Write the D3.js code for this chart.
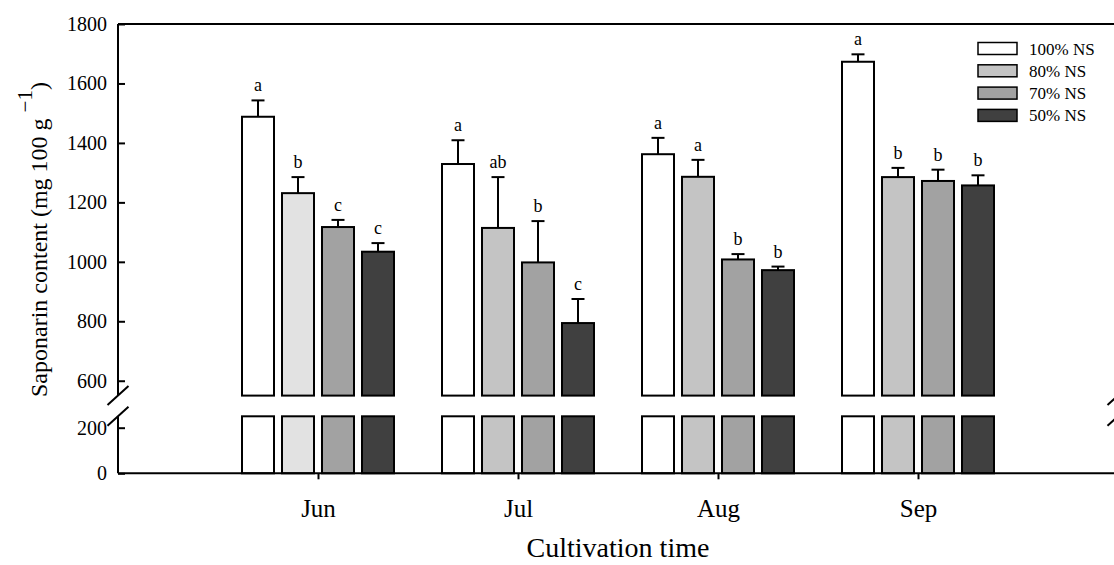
<!DOCTYPE html>
<html>
<head>
<meta charset="utf-8">
<script src="https://cdn.jsdelivr.net/npm/d3@7"></script>
<style>
  html, body { margin: 0; padding: 0; background: #fff; }
  svg { display: block; }
  text { font-family: "Liberation Serif", "Times New Roman", serif; fill: #000; }
</style>
</head>
<body>
<svg id="chart" width="1114" height="565"></svg>
<script>
// ---------- data ----------
const categories = ["Jun", "Jul", "Aug", "Sep"];
const seriesNames = ["100% NS", "80% NS", "70% NS", "50% NS"];
const mean100 = [1488, 1329, 1362, 1673];
const mean80  = [1231, 1114, 1286, 1285];
const mean70  = [1117, 998, 1008, 1272];
const mean50  = [1034, 794, 972, 1257];
const err100 = [55, 80, 55, 25];
const err80  = [54, 171, 57, 31];
const err70  = [24, 139, 18, 38];
const err50  = [29, 81, 12, 34];
const let100 = ["a", "a", "a", "a"];
const let80  = ["b", "ab", "a", "b"];
const let70  = ["c", "b", "b", "b"];
const let50  = ["c", "c", "b", "b"];
const upperTicks = [600, 800, 1000, 1200, 1400, 1600, 1800];
const lowerTicks = [0, 200];
const upperDomain = [550, 1800];
const lowerDomain = [0, 250];

(function () {
const means = [mean100, mean80, mean70, mean50];
const errs = [err100, err80, err70, err50];
const lets = [let100, let80, let70, let50];
const fills = ["#ffffff", "#c4c4c4", "#a2a2a2", "#404040"];
const fillJun80 = "#e2e2e2";

// ---------- layout ----------
const svg = d3.select("#chart");
const pLeft = 118, pRight = 1118, pTop = 24, pBottom = 473.3;
const x = d3.scaleLinear().domain([0, categories.length + 1]).range([pLeft, pRight]);
const inner = d3.scaleBand().domain(seriesNames).range([-80, 80]).paddingInner(0.2).paddingOuter(0.1);
const yUp = d3.scaleLinear().domain(upperDomain).range([395.6, pTop]);
const yLow = d3.scaleLinear().domain(lowerDomain).range([pBottom, 416.3]);

const records = [];
categories.forEach((c, i) => {
  seriesNames.forEach((s, j) => {
    records.push({
      cat: c, ci: i, ser: s, sj: j,
      v: means[j][i], e: errs[j][i], l: lets[j][i],
      fill: (i === 0 && j === 1) ? fillJun80 : fills[j]
    });
  });
});
const bx = d => x(d.ci + 1) + inner(d.ser);
const bw = inner.bandwidth();

// upper bars
svg.append("g").selectAll("rect").data(records).join("rect")
  .attr("x", bx).attr("width", bw)
  .attr("y", d => yUp(d.v)).attr("height", d => yUp(upperDomain[0]) - yUp(d.v))
  .attr("fill", d => d.fill).attr("stroke", "#000").attr("stroke-width", 2);

// lower bars
svg.append("g").selectAll("rect").data(records).join("rect")
  .attr("x", bx).attr("width", bw)
  .attr("y", yLow(lowerDomain[1])).attr("height", yLow(0) - yLow(lowerDomain[1]))
  .attr("fill", d => d.fill).attr("stroke", "#000").attr("stroke-width", 2);

// error bars
const eg = svg.append("g").attr("stroke", "#000").attr("stroke-width", 2);
eg.selectAll("line.v").data(records).join("line").attr("class", "v")
  .attr("x1", d => bx(d) + bw / 2).attr("x2", d => bx(d) + bw / 2)
  .attr("y1", d => yUp(d.v)).attr("y2", d => yUp(d.v + d.e));
eg.selectAll("line.c").data(records).join("line").attr("class", "c")
  .attr("x1", d => bx(d) + bw / 2 - 6.5).attr("x2", d => bx(d) + bw / 2 + 6.5)
  .attr("y1", d => yUp(d.v + d.e)).attr("y2", d => yUp(d.v + d.e));

// significance letters
svg.append("g").selectAll("text").data(records).join("text")
  .attr("x", d => bx(d) + bw / 2).attr("y", d => yUp(d.v + d.e) - 9)
  .attr("text-anchor", "middle").attr("font-size", 18).text(d => d.l);

// frame lines
const fg = svg.append("g").attr("stroke", "#000").attr("stroke-width", 2).attr("fill", "none");
fg.append("line").attr("x1", pLeft).attr("x2", pRight).attr("y1", pTop).attr("y2", pTop);
fg.append("line").attr("x1", pLeft).attr("x2", pRight).attr("y1", pBottom).attr("y2", pBottom);
[pLeft, pRight].forEach(ax => {
  fg.append("line").attr("x1", ax).attr("x2", ax).attr("y1", pTop).attr("y2", yUp(upperDomain[0]));
  fg.append("line").attr("x1", ax).attr("x2", ax).attr("y1", yLow(lowerDomain[1])).attr("y2", pBottom);
  [yUp(upperDomain[0]), yLow(lowerDomain[1])].forEach(by => {
    fg.append("line").attr("x1", ax - 10.5).attr("y1", by + 9.5).attr("x2", ax + 10.5).attr("y2", by - 9.5);
  });
});

// y axes
const styleAxis = g => {
  g.select(".domain").remove();
  g.attr("font-family", "Liberation Serif, serif");
  g.selectAll(".tick line").attr("stroke", "#000").attr("stroke-width", 2);
  g.selectAll(".tick text").attr("font-size", 20).attr("fill", "#000");
};
svg.append("g").attr("transform", `translate(${pLeft},0)`)
  .call(d3.axisLeft(yUp).tickValues(upperTicks).tickSize(-7).tickPadding(11).tickFormat(d3.format("d")))
  .call(styleAxis);
svg.append("g").attr("transform", `translate(${pLeft},0)`)
  .call(d3.axisLeft(yLow).tickValues(lowerTicks).tickSize(-7).tickPadding(11).tickFormat(d3.format("d")))
  .call(styleAxis);

// x axis
const xg = svg.append("g").attr("transform", `translate(0,${pBottom})`)
  .call(d3.axisBottom(x).tickValues(categories.map((c, i) => i + 1)).tickSize(6)
    .tickFormat(v => categories[v - 1]))
  .call(styleAxis);
xg.selectAll(".tick text").attr("font-size", 25).attr("dy", 0).attr("y", 44);

// axis titles
svg.append("text").attr("x", 618).attr("y", 557).attr("text-anchor", "middle")
  .attr("font-size", 28).text("Cultivation time");
const yt = svg.append("text").attr("transform", "translate(47,397) rotate(-90)")
  .attr("text-anchor", "start").attr("font-size", 24);
yt.append("tspan").text("Saponarin content (mg 100 g ");
yt.append("tspan").attr("font-size", 21).attr("dy", -15).text("\u22121");
yt.append("tspan").attr("dy", 15).text(")");

// legend
const lg = svg.append("g");
seriesNames.forEach((s, j) => {
  const ly = 48.5 + j * 22.3;
  lg.append("rect").attr("x", 978).attr("y", ly - 6).attr("width", 39).attr("height", 12)
    .attr("fill", fills[j]).attr("stroke", "#000").attr("stroke-width", 1.5);
  lg.append("text").attr("x", 1029).attr("y", ly + 6).attr("font-size", 17).text(s);
});
})();
</script>
</body>
</html>
